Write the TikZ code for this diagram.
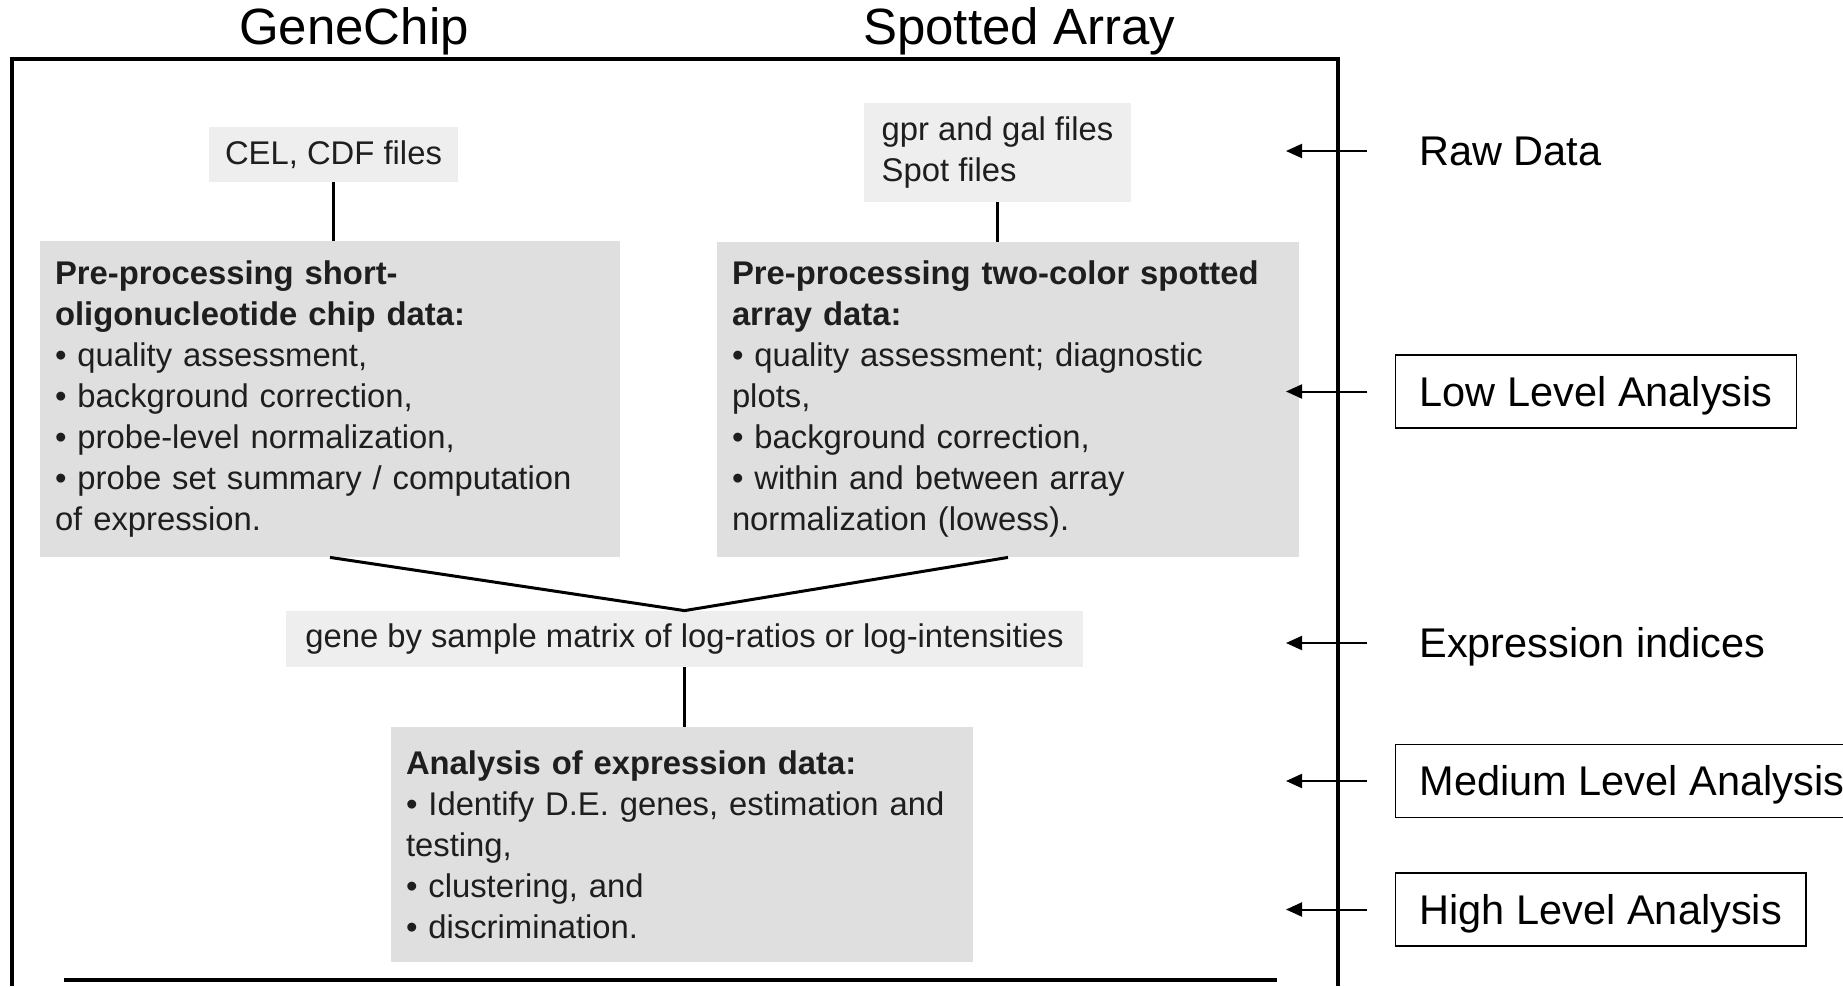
\documentclass[tikz,border=0pt]{standalone}
\usepackage{fontspec}
\setmainfont{Liberation Sans}
\usetikzlibrary{arrows.meta,positioning,calc}
\definecolor{procGray}{RGB}{223,223,223}
\definecolor{fileGray}{RGB}{238,238,238}
\definecolor{procText}{RGB}{30,30,30}
\newcommand{\procfont}{\fontsize{16.4pt}{20.5pt}\selectfont}
\newcommand{\lvlfont}{\fontsize{20.75pt}{24pt}\selectfont}
\newcommand{\colfont}{\fontsize{25.5pt}{28pt}\selectfont}

\begin{document}
\begin{tikzpicture}[x=0.5pt, y=-0.5pt,
    procbox/.style={fill=procGray, text=procText, font=\procfont, align=left,
                    inner xsep=7.5pt, inner ysep=0pt},
    filebox/.style={fill=fileGray, text=procText, font=\procfont, inner sep=0pt},
    lvl/.style={font=\lvlfont, anchor=west, text height=14.5pt, text depth=0pt,
                inner xsep=12pt, inner ysep=11pt},
    lvlbox/.style={lvl, draw, line width=0.7pt},
    col/.style={font=\colfont, anchor=base, inner sep=0pt},
    link/.style={line width=1.5pt},
    arr/.style={-{Triangle[length=8pt, width=7pt]}, line width=1pt},
    rim/.style={line width=1.75pt}
  ]
  \useasboundingbox (0,0) rectangle (1843,986);
  \clip (0,0) rectangle (1843,986);

  % column titles and frame
  \node[col] (gc) at (354,44) {GeneChip};
  \node[col] (sa) at (1019,44) {Spotted Array};
  \draw[rim] (12,986) -- (12,59) -- (1338,59) -- (1338,986);
  \draw[rim, line width=2.25pt] (64,980) -- (1277,980);

  % raw data
  \node[filebox, minimum width=124.5pt, minimum height=27.5pt] (cel) at (333.5,154.5) {CEL, CDF files};
  \node[filebox, align=left, minimum width=133.5pt, minimum height=49.5pt] (gpr) at (997.5,152.5)
    {gpr and gal files\\Spot files};

  % low level
  \node[procbox, text width=275pt, minimum height=158pt] (short) at (330,399)
    {\textbf{Pre-processing short-}\\\textbf{oligonucleotide chip data:}\\• quality assessment,\\• background correction,\\• probe-level normalization,\\• probe set summary / computation\\of expression.};
  \node[procbox, text width=276pt, minimum height=157.5pt] (two) at (1008,399.5)
    {\textbf{Pre-processing two-color spotted}\\\textbf{array data:}\\• quality assessment; diagnostic\\plots,\\• background correction,\\• within and between array\\normalization (lowess).};

  % expression and analysis
  \node[filebox, minimum width=398.5pt, minimum height=28pt] (matrix) at (684.5,639)
    {gene by sample matrix of log-ratios or log-intensities};
  \node[procbox, text width=276pt, minimum height=117.5pt] (anal) at (682,844.5)
    {\textbf{Analysis of expression data:}\\• Identify D.E. genes, estimation and\\testing,\\• clustering, and\\• discrimination.};

  \draw[link] (cel.south) -- (cel.south |- short.north);
  \draw[link] (gpr.south) -- (gpr.south |- two.north);
  \draw[link] (short.south) -- (matrix.north) -- (two.south);
  \draw[link] (matrix.south) -- (matrix.south |- anal.north);

  % levels on the right
  \node[lvl]    (raw)  at (1395,151)   {Raw Data};
  \node[lvlbox] (low)  at (1395,391.5) {Low Level Analysis};
  \node[lvl]    (expr) at (1395,643)   {Expression indices};
  \node[lvlbox] (med)  at (1395,781)   {Medium Level Analysis};
  \node[lvlbox] (high) at (1395,909.5) {High Level Analysis};

  \coordinate (tail) at (1367,0);
  \coordinate (tip)  at (1286,0);
  \foreach \lv in {raw,low,expr,med,high}
    \draw[arr] (\lv.west -| tail) -- (\lv.west -| tip);
\end{tikzpicture}
\end{document}
